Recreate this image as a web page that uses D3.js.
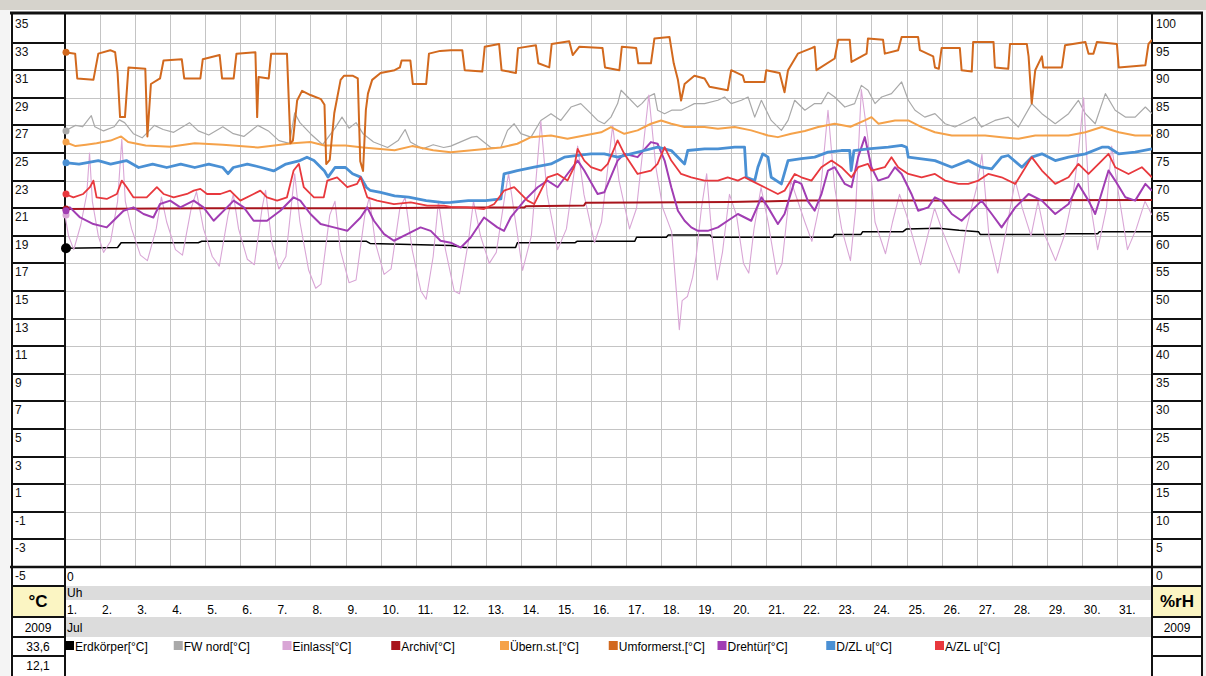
<!DOCTYPE html>
<html><head><meta charset="utf-8">
<script src="https://cdn.jsdelivr.net/npm/d3@7"></script>
<style>
body{margin:0;background:#fff;}
svg{display:block;font-family:Arial,"Liberation Sans",sans-serif;}
</style>
</head><body>
<svg id="c" width="1206" height="676"></svg>
<script>
// ---------------- DATA ----------------
const days = d3.range(1, 32);                 // 1. .. 31.
const leftTicks = d3.range(35, -6, -2);       // 35 .. -5  (°C)
const rightTicks = d3.range(100, -1, -5);     // 100 .. 0  (%rH)
const monthLabel = "Jul";
const yearLabel = "2009";
const hourLabel = "Uh";
const infoValues = ["33,6", "12,1"];
const seriesNames = ["Erdkörper[°C]", "FW nord[°C]", "Einlass[°C]", "Archiv[°C]", "Übern.st.[°C]",
  "Umformerst.[°C]", "Drehtür[°C]", "D/ZL u[°C]", "A/ZL u[°C]"];

// [day, value]
const erdkoerper = [[1,18.1],[2.5,18.15],[2.6,18.5],[4.8,18.5],[4.9,18.6],[9.6,18.6],[9.7,18.45],[12,18.3],[12.4,18.15],[13.85,18.15],[13.9,18.5],[15.55,18.5],[15.6,18.6],[17.25,18.6],[17.3,18.9],[18.15,18.9],[18.2,19.05],[19.4,19.05],[19.45,18.9],[22.9,18.9],[22.95,19.1],[23.7,19.1],[23.75,19.3],[24.9,19.3],[25.0,19.5],[25.9,19.55],[26.5,19.4],[27.05,19.3],[27.1,19.1],[29.4,19.1],[29.45,19.15],[30.45,19.15],[30.5,19.3],[32,19.3]];

const fwNord = [[1.0,26.6],[1.3,27.0],[1.5,26.9],[1.75,27.7],[1.85,26.9],[2.1,26.6],[2.4,26.9],[2.55,27.4],[2.7,27.2],[2.95,26.4],[3.2,26.1],[3.55,27.0],[3.8,26.7],[4.1,26.5],[4.55,27.2],[4.8,26.6],[5.1,26.3],[5.5,26.9],[5.8,26.4],[6.1,26.2],[6.5,27.0],[6.8,26.6],[7.1,25.9],[7.4,25.7],[7.55,27.9],[7.7,27.2],[8.0,26.4],[8.35,25.6],[8.7,26.8],[8.9,27.6],[9.1,26.8],[9.3,27.2],[9.5,26.4],[9.8,25.8],[10.2,25.4],[10.5,25.9],[10.7,26.7],[10.85,25.8],[11.2,25.3],[11.5,25.6],[11.8,25.4],[12.0,25.5],[12.6,26.15],[12.75,26.2],[13.14,25.4],[13.43,25.4],[13.62,26.64],[13.81,27.12],[14.0,26.4],[14.29,26.15],[14.57,27.36],[14.86,27.85],[15.14,27.36],[15.43,28.33],[15.71,28.58],[16.0,27.85],[16.19,27.36],[16.38,27.12],[16.57,27.6],[16.76,28.58],[16.86,29.55],[17.05,29.06],[17.33,28.33],[17.45,28.58],[17.62,29.06],[17.81,29.3],[17.9,28.1],[18.1,27.85],[18.3,28.1],[18.57,28.1],[18.76,28.33],[18.95,28.58],[19.24,28.58],[19.62,28.82],[19.81,29.06],[20.0,28.58],[20.29,28.82],[20.48,29.06],[20.67,27.6],[20.86,28.82],[21.14,27.36],[21.43,26.64],[21.62,27.36],[21.81,28.82],[22.1,28.1],[22.38,28.58],[22.57,28.58],[22.76,29.4],[22.95,29.06],[23.24,28.33],[23.52,28.58],[23.71,29.9],[23.9,29.55],[24.1,28.58],[24.29,29.06],[24.57,29.3],[24.86,30.15],[25.05,28.82],[25.24,28.1],[25.52,27.6],[25.81,27.85],[26.1,27.12],[26.38,26.88],[26.76,27.36],[26.95,27.6],[27.14,26.88],[27.52,27.36],[27.9,27.6],[28.19,26.88],[28.57,28.58],[28.86,27.85],[29.24,27.12],[29.62,27.85],[29.9,28.82],[30.1,27.85],[30.38,27.12],[30.67,29.3],[30.95,28.1],[31.24,27.6],[31.52,27.6],[31.81,28.33],[32.0,27.85]];

const einlass = [[1.0,20.5],[1.1,19.0],[1.25,18.0],[1.45,19.8],[1.62,22.0],[1.7,25.0],[1.78,21.5],[1.95,19.0],[2.1,17.8],[2.3,18.6],[2.5,21.5],[2.62,26.0],[2.72,21.5],[2.9,19.5],[3.15,17.6],[3.35,17.2],[3.6,19.5],[3.75,21.8],[3.9,20.0],[4.15,18.0],[4.35,17.6],[4.6,21.0],[4.75,22.2],[4.95,19.5],[5.2,17.5],[5.4,16.8],[5.65,20.5],[5.8,22.0],[5.95,19.5],[6.2,17.3],[6.4,16.9],[6.62,21.0],[6.72,22.3],[6.9,18.5],[7.1,16.6],[7.3,17.5],[7.55,23.5],[7.7,20.0],[7.95,16.5],[8.15,15.2],[8.3,15.5],[8.55,20.5],[8.7,21.5],[8.85,18.0],[9.1,15.6],[9.3,15.8],[9.55,20.5],[9.68,21.8],[9.85,18.5],[10.1,16.2],[10.3,16.6],[10.55,21.0],[10.7,21.8],[10.9,18.0],[11.15,15.0],[11.3,14.4],[11.5,17.5],[11.65,21.5],[11.85,18.0],[12.1,15.0],[12.25,14.8],[12.5,18.5],[12.65,21.5],[12.85,19.0],[13.1,17.0],[13.3,17.8],[13.55,22.0],[13.65,23.5],[13.85,20.0],[14.05,16.5],[14.3,19.0],[14.57,27.3],[14.75,22.0],[15.05,18.0],[15.3,19.5],[15.62,25.5],[15.8,22.0],[16.1,18.5],[16.3,20.0],[16.62,27.0],[16.8,23.0],[17.1,19.5],[17.3,21.0],[17.65,29.2],[17.85,24.0],[18.05,21.0],[18.3,19.3],[18.45,14.5],[18.52,12.2],[18.6,14.3],[18.75,14.6],[18.9,16.0],[19.0,17.5],[19.15,21.0],[19.3,23.5],[19.45,19.0],[19.6,15.8],[19.75,17.8],[19.95,22.0],[20.15,20.5],[20.35,17.0],[20.5,16.3],[20.65,19.5],[20.85,22.5],[21.05,20.0],[21.3,16.2],[21.45,17.0],[21.7,23.0],[21.9,21.5],[22.1,20.0],[22.3,18.6],[22.5,21.0],[22.76,28.1],[22.95,22.5],[23.15,19.5],[23.4,17.2],[23.55,21.0],[23.71,29.6],[23.9,26.0],[24.1,20.0],[24.4,17.7],[24.6,20.0],[24.8,22.0],[25.0,20.5],[25.4,16.9],[25.65,19.5],[25.8,21.0],[26.0,19.5],[26.5,16.3],[26.7,19.5],[27.0,22.5],[27.15,24.9],[27.35,19.0],[27.6,16.3],[27.85,19.5],[28.1,23.0],[28.3,21.0],[28.55,19.0],[28.75,21.5],[28.95,19.0],[29.25,17.2],[29.5,19.0],[29.75,22.0],[29.9,25.0],[30.05,29.0],[30.2,22.0],[30.45,18.0],[30.7,21.0],[30.85,25.5],[31.05,22.0],[31.3,18.0],[31.55,19.5],[31.8,21.5],[32.0,20.5]];

const archiv = [[1,20.95],[5,21.0],[10,21.0],[12,21.05],[14.1,21.05],[14.15,21.15],[15.8,21.2],[15.85,21.4],[20,21.45],[22,21.55],[26,21.55],[32,21.6]];

const uebernSt = [[1.0,25.8],[1.3,25.5],[1.6,25.6],[1.9,25.7],[2.3,25.9],[2.6,26.2],[2.8,25.8],[3.3,25.55],[4.0,25.45],[4.7,25.7],[5.5,25.6],[6.5,25.4],[7.5,25.7],[8.0,25.8],[8.4,25.55],[9.0,25.55],[9.5,25.4],[10.4,25.2],[10.9,25.5],[11.5,25.2],[12.0,25.06],[13.43,25.4],[13.9,25.67],[14.29,26.15],[14.86,26.27],[15.33,26.03],[15.81,26.27],[16.29,26.5],[16.57,26.88],[16.95,26.39],[17.33,26.64],[17.71,27.12],[18.0,27.36],[18.29,27.12],[18.67,26.88],[19.24,26.88],[19.62,26.76],[20.1,26.88],[20.57,26.64],[21.05,26.27],[21.33,26.15],[21.71,26.39],[22.1,26.6],[22.48,26.88],[22.95,27.12],[23.4,26.9],[23.81,27.36],[24.0,27.6],[24.2,27.12],[24.67,27.36],[25.05,27.36],[25.43,26.88],[25.81,26.5],[26.29,26.27],[26.76,26.27],[27.24,26.27],[27.71,26.15],[28.19,26.03],[28.67,26.27],[29.14,26.27],[29.62,26.27],[30.1,26.5],[30.57,26.88],[31.05,26.5],[31.52,26.27],[32.0,26.27]];

const umformerst = [[1.0,32.3],[1.29,32.2],[1.35,30.4],[1.81,30.3],[1.95,32.2],[2.29,32.45],[2.43,32.3],[2.5,30.8],[2.57,27.6],[2.71,27.6],[2.81,31.2],[3.29,31.1],[3.35,26.2],[3.45,30.0],[3.71,30.4],[3.81,31.7],[4.33,31.8],[4.4,30.4],[4.86,30.4],[4.93,31.8],[5.41,32.1],[5.48,30.4],[5.81,30.4],[5.89,32.2],[6.43,32.3],[6.48,27.6],[6.52,30.5],[6.81,30.4],[6.88,32.2],[7.33,32.2],[7.43,25.7],[7.5,25.9],[7.62,28.8],[7.76,29.5],[8.0,29.2],[8.3,28.9],[8.4,28.5],[8.45,24.2],[8.55,24.5],[8.68,27.9],[8.86,30.3],[8.96,30.6],[9.2,30.6],[9.35,30.4],[9.42,24.4],[9.5,23.7],[9.58,28.1],[9.64,29.3],[9.76,30.3],[10.0,30.8],[10.4,31.0],[10.55,31.2],[10.6,31.7],[10.85,31.7],[10.92,30.0],[11.3,30.0],[11.38,32.2],[11.7,32.4],[12.0,32.45],[12.33,32.45],[12.4,31.0],[12.9,30.9],[12.97,32.7],[13.38,32.9],[13.45,31.0],[13.86,30.8],[13.92,32.6],[14.43,32.8],[14.5,31.5],[14.81,31.2],[14.88,32.9],[15.38,33.1],[15.48,32.1],[15.67,32.7],[16.33,32.6],[16.4,31.2],[16.81,31.0],[16.88,32.7],[17.29,32.6],[17.35,31.5],[17.71,31.5],[17.81,33.3],[18.24,33.4],[18.36,31.5],[18.48,30.3],[18.57,28.8],[18.67,30.0],[18.95,30.6],[19.24,30.4],[19.38,29.8],[19.9,29.55],[20.0,31.0],[20.33,30.6],[20.38,30.15],[20.95,30.15],[21.0,31.0],[21.38,30.8],[21.52,29.4],[21.62,31.0],[21.9,32.2],[22.29,32.6],[22.38,32.7],[22.43,31.0],[22.95,31.85],[23.05,33.2],[23.38,33.2],[23.43,31.6],[23.86,32.2],[23.9,33.3],[24.33,33.2],[24.38,32.2],[24.76,32.45],[24.86,33.4],[25.33,33.4],[25.38,32.45],[25.76,32.0],[25.81,31.2],[25.92,31.1],[26.0,32.6],[26.52,32.6],[26.57,31.0],[26.86,30.9],[26.9,33.05],[27.48,33.05],[27.52,31.2],[27.9,31.1],[27.95,32.9],[28.43,32.9],[28.48,32.0],[28.57,28.6],[28.67,31.0],[28.86,32.0],[28.9,31.2],[29.43,31.2],[29.52,32.8],[30.1,33.05],[30.19,32.2],[30.33,32.2],[30.43,33.05],[31.0,32.9],[31.05,31.2],[31.81,31.35],[31.9,32.9],[32.0,33.2]];

const drehtuer = [[1.0,20.82],[1.14,21.06],[1.43,20.33],[1.81,19.85],[2.19,19.61],[2.38,20.09],[2.67,20.82],[2.95,21.06],[3.24,20.58],[3.52,20.33],[3.71,21.3],[4.0,21.55],[4.29,21.06],[4.67,21.55],[4.95,21.06],[5.24,20.09],[5.62,21.06],[5.81,21.55],[6.1,21.06],[6.38,20.09],[6.76,20.09],[7.14,20.82],[7.52,21.79],[7.71,21.55],[8.0,20.58],[8.29,19.85],[8.67,19.61],[9.05,19.36],[9.43,20.33],[9.62,21.06],[9.81,20.09],[10.1,19.12],[10.38,18.64],[10.76,19.12],[11.14,19.61],[11.43,19.36],[11.71,18.64],[12.0,18.5],[12.29,18.15],[12.57,18.88],[12.95,20.33],[13.33,19.61],[13.52,19.36],[13.71,20.33],[14.1,21.55],[14.48,22.52],[14.76,23.0],[15.05,22.52],[15.33,23.48],[15.62,24.45],[15.81,23.73],[16.19,22.03],[16.38,22.15],[16.76,24.45],[16.95,24.94],[17.33,24.7],[17.71,25.79],[17.9,25.67],[18.1,24.45],[18.29,22.52],[18.48,20.82],[18.67,20.09],[18.86,19.61],[19.05,19.36],[19.33,19.36],[19.62,19.61],[19.9,20.09],[20.19,20.58],[20.57,20.09],[20.86,21.79],[21.05,21.06],[21.33,19.85],[21.52,20.58],[21.81,23.0],[22.0,22.76],[22.19,21.5],[22.38,20.82],[22.57,22.0],[22.76,23.73],[22.95,23.97],[23.24,22.76],[23.43,22.52],[23.62,24.7],[23.81,26.15],[24.0,23.97],[24.19,23.0],[24.48,23.24],[24.67,23.97],[24.86,23.48],[25.14,22.03],[25.33,20.82],[25.62,21.06],[25.81,21.79],[26.0,21.55],[26.29,20.58],[26.57,20.09],[26.95,21.06],[27.14,21.55],[27.43,20.58],[27.71,19.61],[28.1,21.06],[28.48,22.03],[28.86,21.55],[29.24,20.58],[29.62,21.3],[29.9,22.76],[30.19,21.55],[30.38,20.58],[30.76,23.73],[30.95,23.0],[31.24,21.79],[31.52,21.55],[31.81,22.76],[32.0,22.27]];

const dzlU = [[1.0,24.3],[1.4,24.2],[1.95,24.45],[2.3,24.2],[2.75,24.45],[3.1,23.95],[3.5,24.2],[3.9,23.95],[4.3,24.2],[4.7,23.95],[5.1,24.2],[5.5,23.95],[5.65,23.5],[5.8,23.95],[6.2,24.2],[6.6,23.95],[6.95,23.7],[7.3,24.2],[7.7,24.45],[7.9,24.7],[8.1,24.45],[8.4,23.7],[8.5,23.25],[8.7,23.95],[9.0,23.95],[9.2,23.5],[9.43,23.25],[9.6,22.5],[9.7,22.3],[10.0,22.15],[10.4,21.9],[10.8,21.8],[11.3,21.55],[11.8,21.4],[12.0,21.42],[12.5,21.55],[13.0,21.55],[13.43,21.67],[13.52,23.48],[13.9,23.73],[14.38,23.97],[14.86,24.21],[15.24,24.7],[15.62,24.82],[16.0,24.94],[16.38,24.94],[16.76,24.7],[17.14,24.94],[17.52,25.18],[17.9,25.42],[18.29,25.18],[18.57,24.45],[18.67,24.21],[18.76,25.18],[19.24,25.3],[19.62,25.3],[20.1,25.42],[20.38,25.42],[20.43,23.24],[20.67,23.0],[20.76,23.97],[20.9,24.94],[21.05,24.7],[21.14,23.24],[21.43,22.76],[21.62,24.45],[22.0,24.6],[22.38,24.7],[22.76,25.06],[23.14,25.18],[23.38,25.18],[23.42,23.73],[23.5,25.18],[23.9,25.3],[24.48,25.42],[24.86,25.55],[25.0,25.42],[25.05,24.7],[25.43,24.58],[25.81,24.45],[26.29,23.97],[26.76,24.45],[27.14,23.97],[27.43,23.85],[27.71,24.7],[27.9,24.82],[28.29,23.97],[28.57,24.7],[28.86,24.94],[29.24,24.45],[29.62,24.7],[30.1,24.94],[30.57,25.42],[30.76,25.42],[31.05,24.94],[31.52,25.06],[32.0,25.3]];

const azlU = [[1.0,22.03],[1.24,21.79],[1.52,22.03],[1.71,22.52],[1.81,23.0],[1.9,21.79],[2.19,21.67],[2.48,22.03],[2.62,23.0],[2.76,22.52],[2.95,21.79],[3.33,21.79],[3.62,22.52],[3.81,22.03],[4.1,21.79],[4.48,22.03],[4.67,22.27],[4.86,22.4],[5.05,22.03],[5.43,22.03],[5.71,22.27],[6.0,21.55],[6.38,22.03],[6.57,22.27],[6.76,21.79],[7.05,21.55],[7.33,21.79],[7.52,23.73],[7.67,24.21],[7.81,22.52],[8.1,21.79],[8.38,21.79],[8.48,23.0],[8.76,23.24],[9.05,22.52],[9.33,22.76],[9.43,23.24],[9.62,21.79],[9.9,21.55],[10.38,21.3],[10.86,21.42],[11.33,21.18],[11.81,21.18],[12.0,21.1],[12.48,21.06],[12.95,20.94],[13.24,21.3],[13.52,22.27],[13.81,22.52],[14.19,21.55],[14.38,21.3],[14.76,23.24],[15.05,23.48],[15.33,23.0],[15.52,23.97],[15.62,25.3],[15.81,24.45],[16.0,23.97],[16.29,23.73],[16.48,24.21],[16.76,25.91],[16.95,24.94],[17.33,23.48],[17.71,23.73],[17.9,24.21],[18.1,25.42],[18.29,24.45],[18.57,23.48],[18.86,23.24],[19.24,23.0],[19.62,23.0],[19.9,23.24],[20.19,23.0],[20.38,23.24],[20.57,23.0],[20.95,22.52],[21.33,22.03],[21.52,22.27],[21.81,23.48],[22.0,23.24],[22.29,23.0],[22.57,23.97],[22.86,24.45],[23.14,23.97],[23.43,23.24],[23.62,23.97],[23.9,24.21],[24.0,23.73],[24.38,23.97],[24.57,24.7],[24.76,23.97],[25.05,23.48],[25.43,23.24],[25.81,23.48],[26.1,23.0],[26.48,22.76],[26.76,22.76],[27.05,23.0],[27.33,23.48],[27.71,23.24],[28.1,22.76],[28.57,24.7],[28.86,23.73],[29.24,22.76],[29.62,23.24],[29.9,24.21],[30.19,23.48],[30.57,24.45],[30.76,24.94],[30.95,23.97],[31.33,23.48],[31.71,23.97],[32.0,23.24]];

const seriesData = [erdkoerper, fwNord, einlass, archiv, uebernSt, umformerst, drehtuer, dzlU, azlU];

// ---------------- STYLE ----------------
const colors = ["#000000", "#a9a9a9", "#d9a6d6", "#a8141c", "#f5a24a", "#d2691e", "#a13db3", "#4a90d4", "#e8383d"];
const widths = [1.5, 1.2, 1.1, 2, 2, 2, 2, 2.8, 1.8];

const W = 1206, H = 676;
const PL = 65, PR = 1152, PT = 15, PB = 567;
const svg = d3.select("#c");

const x = d3.scaleLinear().domain([1, 32]).range([PL, PR]);
const y = d3.scaleLinear().domain([-5, 35]).range([PB, PT]);
const yR = d3.scaleLinear().domain([0, 100]).range([PB, PT]);
const legendX = d3.scaleLinear().domain([0, 8]).range([65, 935]);

// background + window chrome
svg.append("rect").attr("width", W).attr("height", H).attr("fill", "#fff");
svg.append("rect").attr("x", 0).attr("y", 0).attr("width", W).attr("height", 10).attr("fill", "#d6d3cc");
svg.append("rect").attr("x", 0).attr("y", 10).attr("width", 10).attr("height", H - 10).attr("fill", "#f4f4f4");
svg.append("rect").attr("x", 1203).attr("y", 10).attr("width", 3).attr("height", H - 10).attr("fill", "#f4f4f4");

// bottom bands
svg.append("rect").attr("x", PL).attr("y", 586).attr("width", PR - PL).attr("height", 14).attr("fill", "#dcdcdc");
svg.append("rect").attr("x", PL).attr("y", 617).attr("width", PR - PL).attr("height", 20).attr("fill", "#dcdcdc");

// yellow unit cells
svg.append("rect").attr("x", 12).attr("y", 586).attr("width", PL - 12).attr("height", 31).attr("fill", "#fbf5c3");
svg.append("rect").attr("x", PR).attr("y", 586).attr("width", 1202 - PR).attr("height", 31).attr("fill", "#fbf5c3");

// grid
const grid = svg.append("g").attr("stroke", "#c4c4c4").attr("stroke-width", 1);
grid.selectAll("line.v").data(days.slice(1)).join("line")
  .attr("x1", d => Math.round(x(d)) + 0.5).attr("x2", d => Math.round(x(d)) + 0.5)
  .attr("y1", PT).attr("y2", PB);
grid.selectAll("line.h").data(leftTicks.slice(1, -1)).join("line")
  .attr("x1", PL).attr("x2", PR)
  .attr("y1", d => Math.round(y(d)) + 0.5).attr("y2", d => Math.round(y(d)) + 0.5);

// side panel separator lines (thick black)
const sep = svg.append("g").attr("stroke", "#111").attr("stroke-width", 2);
sep.selectAll("line.l").data(leftTicks.slice(1, -1)).join("line")
  .attr("x1", 12).attr("x2", PL).attr("y1", d => Math.round(y(d))).attr("y2", d => Math.round(y(d)));
sep.selectAll("line.r").data(rightTicks.slice(1, -1)).join("line")
  .attr("x1", PR).attr("x2", 1202).attr("y1", d => Math.round(yR(d))).attr("y2", d => Math.round(yR(d)));
[586, 617, 637, 656].forEach(yy => {
  sep.append("line").attr("x1", 12).attr("x2", PL).attr("y1", yy).attr("y2", yy);
  sep.append("line").attr("x1", PR).attr("x2", 1202).attr("y1", yy).attr("y2", yy);
});
// frame
sep.append("line").attr("x1", 10).attr("x2", 1203).attr("y1", 13).attr("y2", 13).attr("stroke-width", 3);
sep.append("line").attr("x1", 10).attr("x2", 1203).attr("y1", PB).attr("y2", PB).attr("stroke-width", 2.5);
sep.append("line").attr("x1", 12).attr("x2", 12).attr("y1", 12).attr("y2", H);
sep.append("line").attr("x1", PL).attr("x2", PL).attr("y1", 12).attr("y2", H);
sep.append("line").attr("x1", PR).attr("x2", PR).attr("y1", 12).attr("y2", H);
sep.append("line").attr("x1", 1202).attr("x2", 1202).attr("y1", 12).attr("y2", H);

// left axis labels
svg.append("g").attr("font-size", 12).attr("fill", "#111")
  .selectAll("text").data(leftTicks).join("text")
  .attr("x", 15).attr("y", d => y(d) + 13).text(d => d);
// right axis labels
svg.append("g").attr("font-size", 12).attr("fill", "#111")
  .selectAll("text").data(rightTicks).join("text")
  .attr("x", PR + 4).attr("y", d => yR(d) + 13).text(d => d);

// unit cells text
svg.append("text").attr("x", 38).attr("y", 607).attr("text-anchor", "middle")
  .attr("font-size", 17).attr("font-weight", "bold").text("°C");
svg.append("text").attr("x", 1177).attr("y", 607).attr("text-anchor", "middle")
  .attr("font-size", 17).attr("font-weight", "bold").text("%rH");
svg.append("text").attr("x", 38).attr("y", 632).attr("text-anchor", "middle").attr("font-size", 12).text(yearLabel);
svg.append("text").attr("x", 1177).attr("y", 632).attr("text-anchor", "middle").attr("font-size", 12).text(yearLabel);
infoValues.forEach((v, i) => {
  svg.append("text").attr("x", 38).attr("y", 651 + i * 19).attr("text-anchor", "middle").attr("font-size", 12).text(v);
});

// time axis rows
svg.append("text").attr("x", PL + 2).attr("y", 581).attr("font-size", 12).text("0");
svg.append("text").attr("x", PL + 2).attr("y", 597).attr("font-size", 12).text(hourLabel);
svg.append("g").attr("font-size", 12)
  .selectAll("text").data(days).join("text")
  .attr("x", d => x(d) + 2).attr("y", 614).text(d => d + ".");
svg.append("text").attr("x", PL + 2).attr("y", 632).attr("font-size", 12).text(monthLabel);

// clip for plot
svg.append("clipPath").attr("id", "plotclip").append("rect")
  .attr("x", PL - 6).attr("y", PT).attr("width", PR - PL + 6).attr("height", PB - PT);

const line = d3.line().x(d => x(d[0])).y(d => y(d[1]));
const plot = svg.append("g").attr("clip-path", "url(#plotclip)");
seriesData.forEach((s, i) => {
  plot.append("path").datum(s).attr("d", line)
    .attr("fill", "none").attr("stroke", colors[i]).attr("stroke-width", widths[i])
    .attr("stroke-linejoin", "round");
});
// start markers
seriesData.forEach((s, i) => {
  plot.append("circle").attr("cx", x(s[0][0]) + 1).attr("cy", y(s[0][1]))
    .attr("r", i === 0 ? 5 : 3.5).attr("fill", colors[i]);
});

// legend
const lg = svg.append("g").attr("font-size", 12);
seriesNames.forEach((n, i) => {
  const lx = legendX(i);
  lg.append("rect").attr("x", lx).attr("y", 641).attr("width", 9).attr("height", 9).attr("fill", colors[i]);
  lg.append("text").attr("x", lx + 10).attr("y", 651).text(n);
});
</script>
</body></html>
